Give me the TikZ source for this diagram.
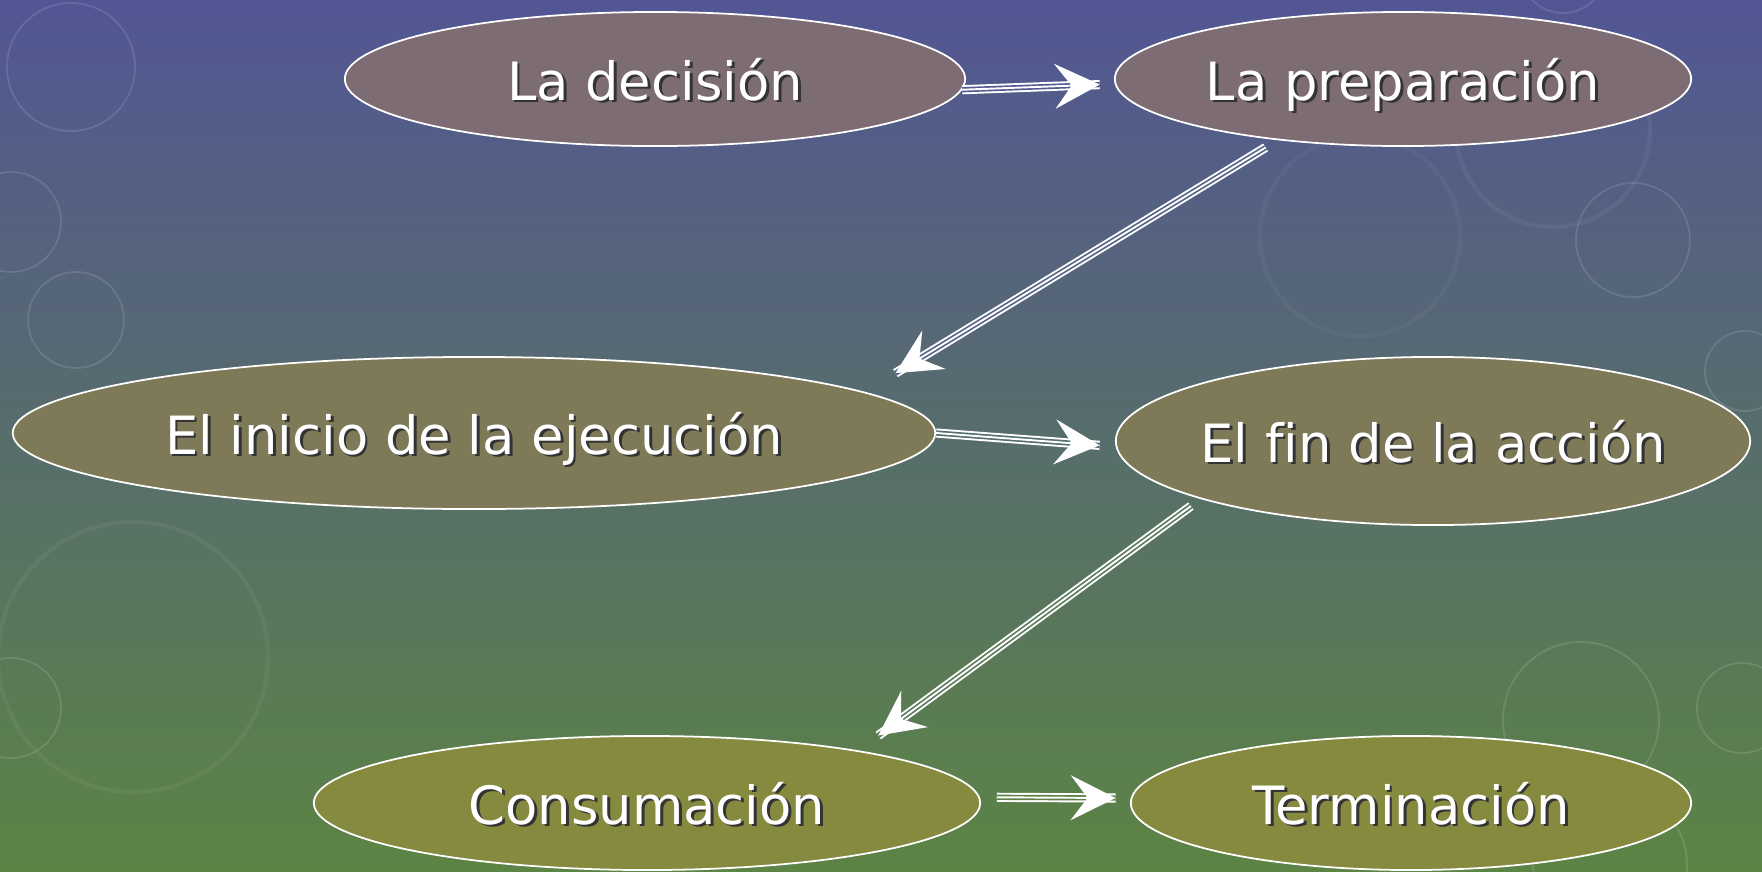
\documentclass[tikz,border=0pt]{standalone}
\usepackage{fontspec}
\setmainfont{DejaVu Sans}[Ligatures=CommonOff]
\usepackage{tikz}
\usetikzlibrary{shapes.geometric, arrows.meta}

\definecolor{bgtop}{RGB}{82,86,148}
\definecolor{bgmid}{RGB}{84,110,116}
\definecolor{bgbot}{RGB}{92,132,68}
\definecolor{rowa}{RGB}{125,108,116}
\definecolor{rowb}{RGB}{126,122,88}
\definecolor{rowc}{RGB}{134,138,62}
\definecolor{gapa}{RGB}{82,90,145}
\definecolor{gapb}{RGB}{83,98,132}
\definecolor{gapd}{RGB}{88,122,90}
\definecolor{gape}{RGB}{92,130,72}

\newcommand{\shtxt}[1]{\makebox[0pt]{\makebox[0pt][l]{\hspace{0.8pt}\raisebox{-0.8pt}{\color{black!80}#1}}#1}}

\tikzset{
  etapa/.style={ellipse, draw=white, line width=0.5pt, fill=#1, inner sep=0pt,
    text=white, text depth=0pt, font=\fontsize{15}{18}\selectfont},
  flow/.style={white, line width=0.55pt,
    -{Stealth[length=12.8pt, width=12.8pt, inset=4.8pt]},
    preaction={draw=white, line width=2.6pt, -},
    preaction={draw=#1, line width=1.5pt, -}},
  bubble/.style={draw=white, draw opacity=0.12, line width=0.5pt}
}

\begin{document}
\begin{tikzpicture}[x=0.01cm, y=-0.01cm]
\shade[top color=bgtop, middle color=bgmid, bottom color=bgbot] (0,0) rectangle (1762,872);
\begin{scope}
\clip (0,0) rectangle (1762,872);
\foreach \cx/\cy/\r in {71/67/64, 11/222/50, 76/320/48, 11/708/50, 1563/-30/43,
  1633/240/57, 1581/720/78, 1610/865/77, 1745/371/40, 1742/708/45}
  \draw[bubble] (\cx,\cy) circle (\r);
\draw[bubble, draw opacity=0.05, line width=1.2pt] (133,657) circle (135);
\draw[bubble, draw opacity=0.05, line width=1.2pt] (1553,130) circle (97);
\draw[bubble, draw opacity=0.04, line width=1.2pt] (1360,236) circle (100);
\end{scope}

\node[etapa=rowa, minimum width=6.2cm, minimum height=1.34cm] (dec) at (655,79) {\shtxt{La decisión}};
\node[etapa=rowa, minimum width=5.76cm, minimum height=1.34cm] (prep) at (1403,79) {\shtxt{La preparación}};
\node[etapa=rowb, minimum width=9.22cm, minimum height=1.52cm] (ini) at (474,433) {\shtxt{El inicio de la ejecución}};
\node[etapa=rowb, minimum width=6.34cm, minimum height=1.68cm] (fin) at (1433,441) {\shtxt{El fin de la acción}};
\node[etapa=rowc, minimum width=6.66cm, minimum height=1.34cm] (cons) at (647,803) {\shtxt{Consumación}};
\node[etapa=rowc, minimum width=5.6cm, minimum height=1.34cm] (term) at (1411,803) {\shtxt{Terminación}};

\draw[flow=gapa, shorten >=1.5mm] (dec.358.5) -- (prep.181.5);
\draw[flow=gapb, shorten <=1.4mm, shorten >=3.6mm] (prep.206) -- (ini.6);
\draw[flow=bgmid, shorten >=1.6mm] (ini.east) -- (fin.181);
\draw[flow=gapd, shorten <=1.2mm, shorten >=2.5mm] (fin.194.5) -- (cons.14);
\draw[flow=gape, shorten <=1.7mm, shorten >=1.5mm] (cons.1) -- (term.179);
\end{tikzpicture}
\end{document}
